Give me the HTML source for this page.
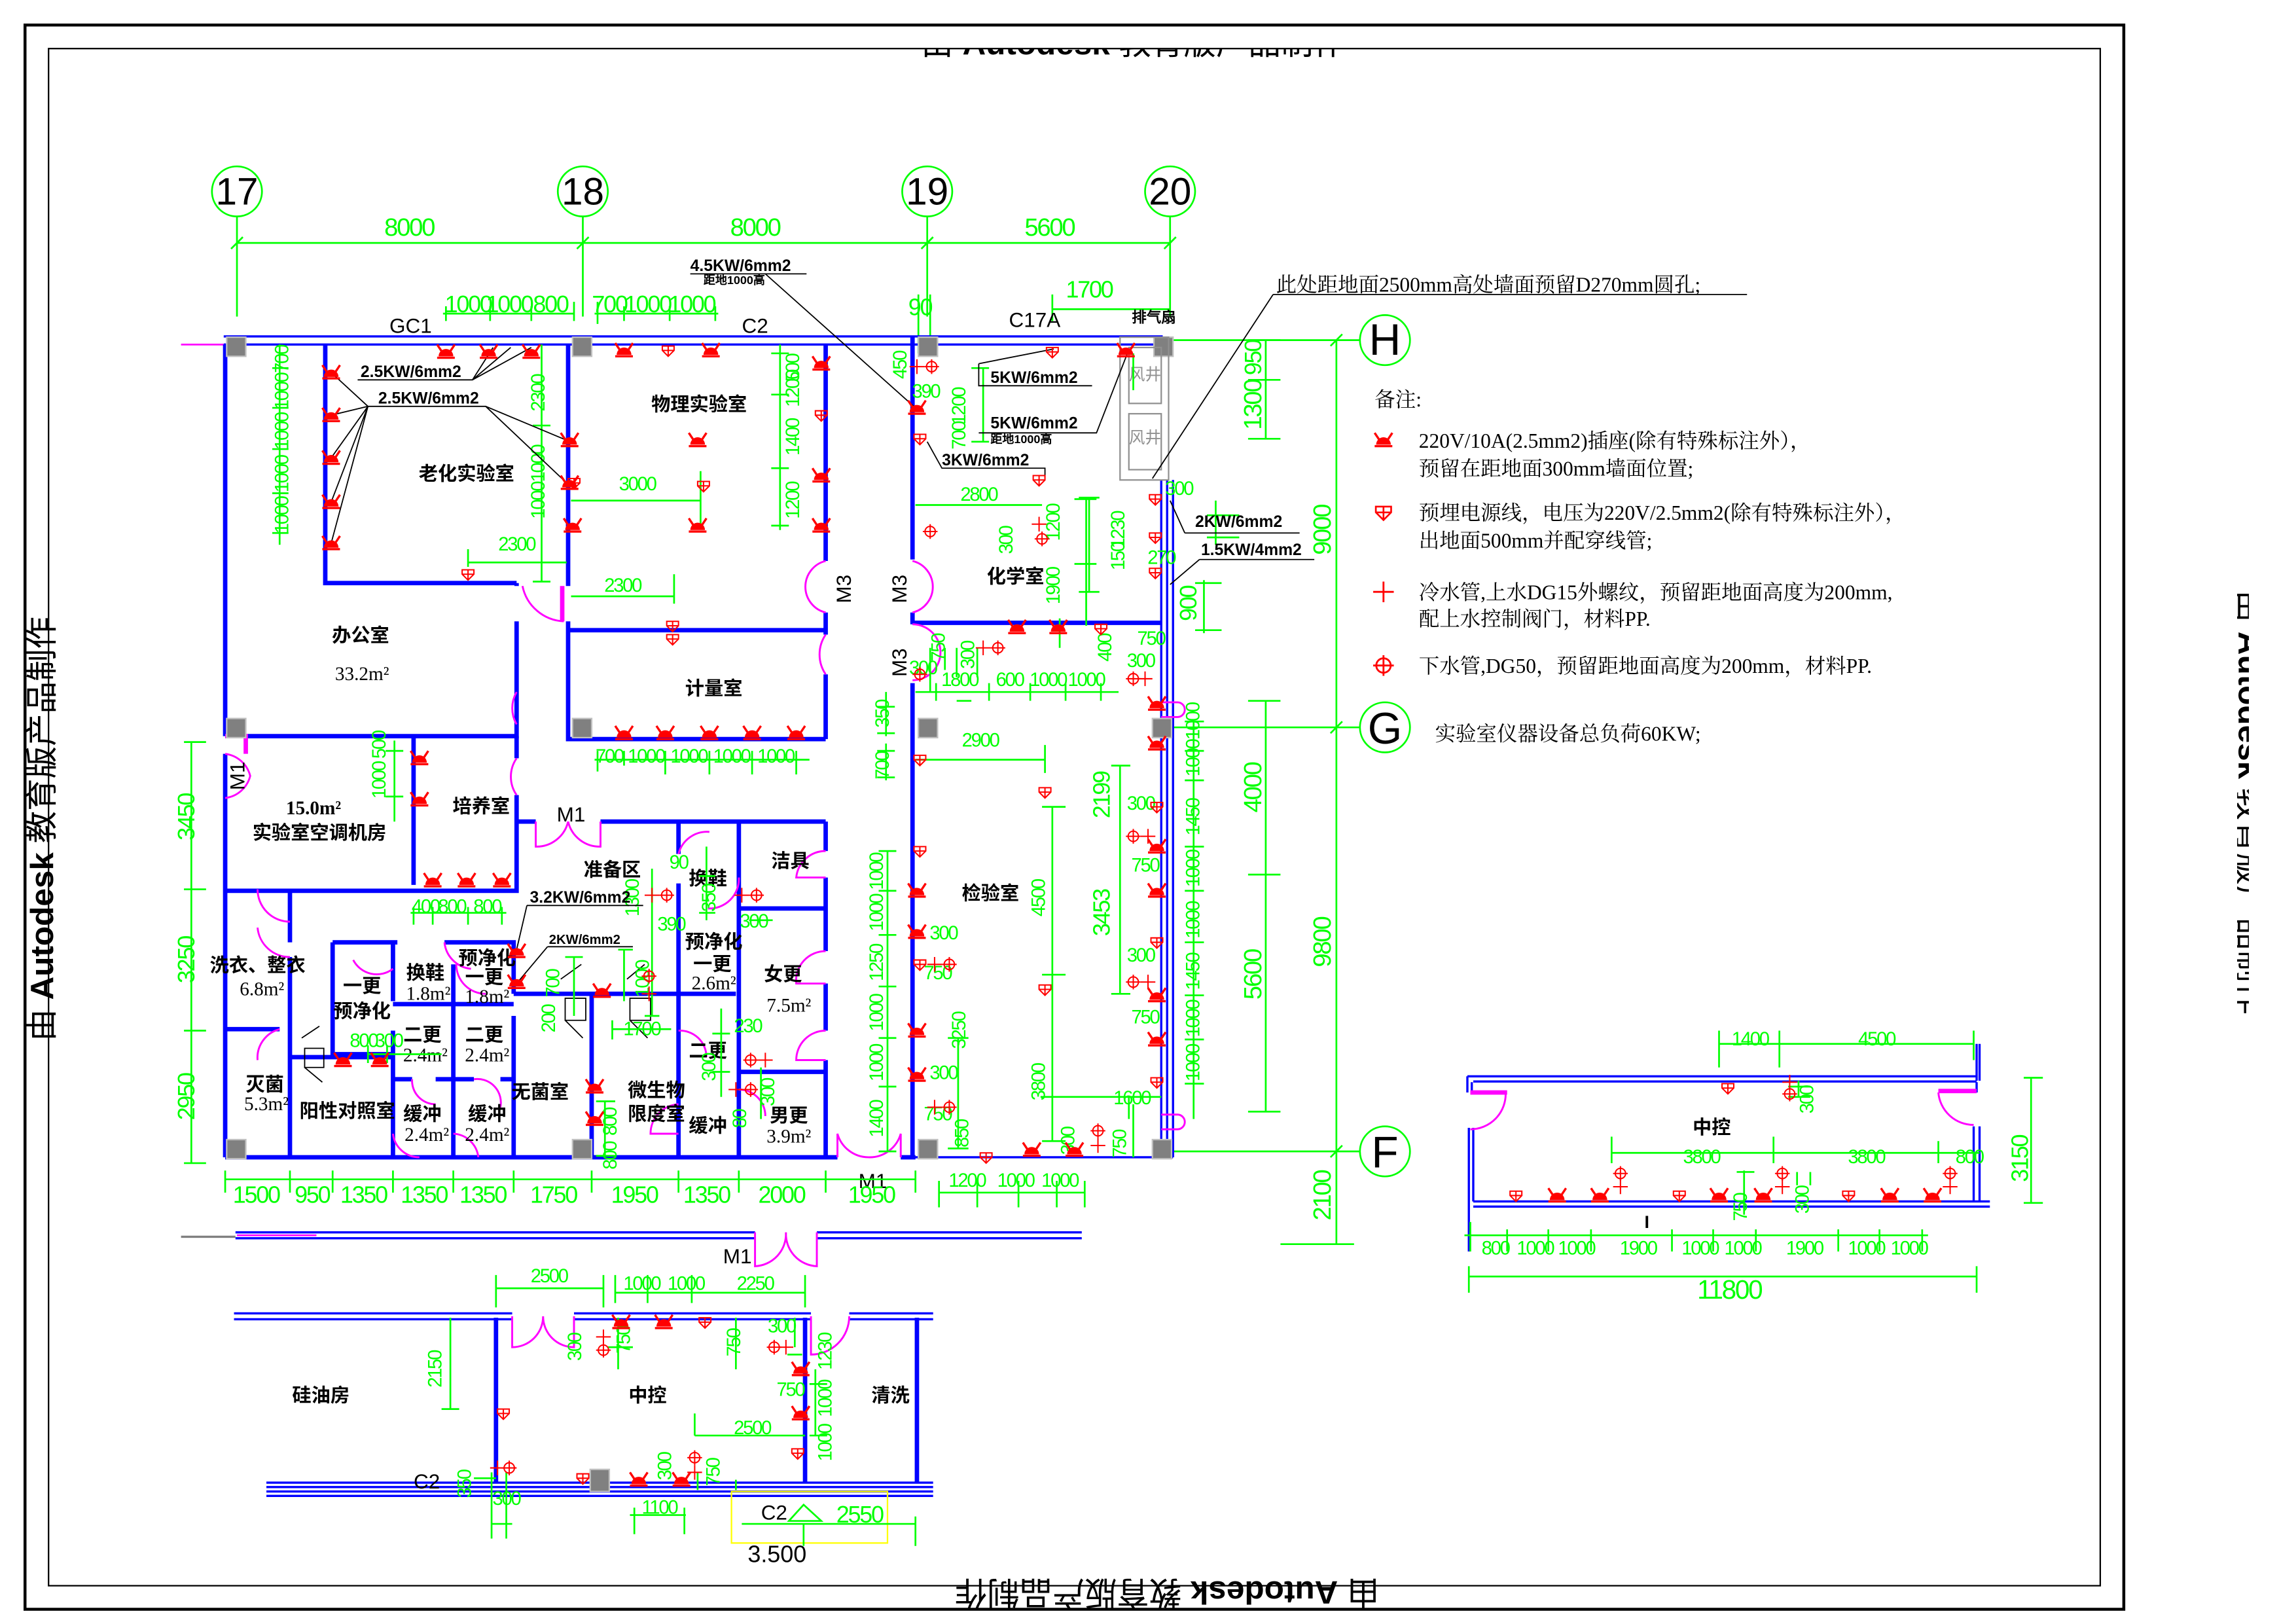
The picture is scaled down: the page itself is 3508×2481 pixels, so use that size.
<!DOCTYPE html>
<html><head><meta charset="utf-8"><style>
html,body{margin:0;padding:0;background:#fff;}
svg{display:block;}
text{font-family:"Liberation Sans","Noto Sans CJK SC",sans-serif;}
.d{fill:#00ff00;font-size:16px;text-anchor:middle;letter-spacing:-1px;font-family:"Liberation Sans Narrow","Liberation Sans",sans-serif;}
.ds{fill:#00ff00;font-size:13px;text-anchor:middle;letter-spacing:-1px;font-family:"Liberation Sans Narrow","Liberation Sans",sans-serif;}
.r{fill:#000;font-size:13px;font-weight:bold;text-anchor:middle;font-family:"Liberation Sans","Noto Sans CJK SC",sans-serif;}
.a{fill:#000;font-size:13px;text-anchor:middle;font-family:"Liberation Serif","Noto Serif CJK SC",serif;}
.k{fill:#000;font-size:11px;font-weight:bold;font-family:"Liberation Sans",sans-serif;}
.n{fill:#000;font-size:14px;font-family:"Liberation Serif","Noto Serif CJK SC",serif;}
.lb{fill:#000;font-size:14px;text-anchor:middle;font-family:"Liberation Sans Narrow","Liberation Sans",sans-serif;}
.w{stroke:#0000ff;stroke-width:3;fill:none;}
.w2{stroke:#0000ff;stroke-width:1.5;fill:none;}
.g{stroke:#00ff00;stroke-width:1.2;fill:none;}
.m{stroke:#ff00ff;stroke-width:1.3;fill:none;}
.mk{stroke:#ff00ff;stroke-width:3;fill:none;}
.bl{stroke:#000;stroke-width:0.8;fill:none;}
.col{fill:#808080;stroke:#c0c0c0;stroke-width:1;}
</style></head><body>
<svg width="3508" height="2481" viewBox="0 0 1560 1103" preserveAspectRatio="none" xmlns="http://www.w3.org/2000/svg">
<defs>
<g id="s"><path d="M-5,3 A5,5 0 0 1 5,3 Z" fill="#ff0000"/><path d="M-6,-5 L-2,1 M6,-5 L2,1 M-6,4 L6,4" stroke="#ff0000" stroke-width="1.5"/></g>
<g id="p"><path d="M-4,-3 H4 V0 L0,4 L-4,0 Z M-4,0 H4 M0,-3 V4" fill="none" stroke="#ff0000" stroke-width="0.9"/></g>
<g id="c"><path d="M-5,0 H5 M0,-5 V5" stroke="#ff0000" stroke-width="0.9"/></g>
<g id="o"><circle r="3.5" fill="none" stroke="#ff0000" stroke-width="0.9"/><path d="M-5,0 H5 M0,-5 V5" stroke="#ff0000" stroke-width="0.9"/></g>
<clipPath id="ct"><rect x="0" y="33" width="1560" height="30"/></clipPath>
<clipPath id="cr"><rect x="1520" y="300" width="8" height="500"/></clipPath>
</defs>
<rect width="1560" height="1103" fill="#fff"/>
<!-- frame -->
<rect x="17" y="17" width="1426" height="1076" fill="none" stroke="#000" stroke-width="2"/>
<rect x="33" y="33" width="1394" height="1044" fill="none" stroke="#000" stroke-width="1"/>
<!-- watermarks -->
<text x="770" y="37" clip-path="url(#ct)" style="font-size:22px;text-anchor:middle;font-family:'Liberation Sans','Noto Sans CJK SC',sans-serif;">由 <tspan font-weight="bold">Autodesk</tspan> 教育版产品制作</text>
<text transform="translate(793,1074) rotate(180)" style="font-size:22px;text-anchor:middle;font-family:'Liberation Sans','Noto Sans CJK SC',sans-serif;">由 <tspan font-weight="bold">Autodesk</tspan> 教育版产品制作</text>
<text transform="translate(36,563) rotate(-90)" style="font-size:22px;text-anchor:middle;font-family:'Liberation Sans','Noto Sans CJK SC',sans-serif;">由 <tspan font-weight="bold">Autodesk</tspan> 教育版产品制作</text>
<g clip-path="url(#cr)"><text transform="translate(1521,545) rotate(90)" style="font-size:22px;text-anchor:middle;font-family:'Liberation Sans','Noto Sans CJK SC',sans-serif;">由 <tspan font-weight="bold">Autodesk</tspan> 教育版产品制作</text></g>

<!-- grid axes -->
<g class="g">
<circle cx="161" cy="130" r="17"/><circle cx="396" cy="130" r="17"/><circle cx="630" cy="130" r="17"/><circle cx="795" cy="130" r="17"/>
<path d="M161,147 V215 M396,147 V215 M630,147 V215 M795,147 V215 M161,165 H795"/>
<path d="M157,169 L165,161 M392,169 L400,161 M626,169 L634,161 M791,169 L799,161"/>
<circle cx="941" cy="231" r="17"/><circle cx="941" cy="494" r="17"/><circle cx="941" cy="782" r="17"/>
<path d="M797,231 H924 M797,494 H924 M797,782 H924 M908,231 V845 M870,845 H920"/>
<path d="M904,235 L912,227 M904,498 L912,490 M904,786 L912,778"/>
<path d="M860,231 V298 M848,231 H870 M848,258 H870 M848,298 H870"/>
<path d="M860,476 V755 M848,476 H870 M848,594 H870 M848,755 H870"/>
<path d="M826,340 V370 M820,350 H842 M820,365 H842 M818,394 V430 M812,396 H830 M812,428 H830"/>
</g>
<g fill="#000" style="font-size:26px;font-family:'Liberation Serif',serif;text-anchor:middle;">
<text x="161" y="139">17</text><text x="396" y="139">18</text><text x="630" y="139">19</text><text x="795" y="139">20</text>
<text x="941" y="241" style="font-size:30px">H</text><text x="941" y="505" style="font-size:30px">G</text><text x="941" y="793" style="font-size:30px">F</text>
</g>
<text class="d" x="278" y="160" style="font-size:17px">8000</text><text class="d" x="513" y="160" style="font-size:17px">8000</text><text class="d" x="713" y="160" style="font-size:17px">5600</text>
<text class="d" transform="translate(904,360) rotate(-90)" style="font-size:17px">9000</text>
<text class="d" transform="translate(904,640) rotate(-90)" style="font-size:17px">9800</text>
<text class="d" transform="translate(904,812) rotate(-90)" style="font-size:17px">2100</text>
<text class="d" transform="translate(857,275) rotate(-90)" style="font-size:17px">1300</text>
<text class="d" transform="translate(857,243) rotate(-90)">950</text>
<text class="d" transform="translate(857,535) rotate(-90)" style="font-size:17px">4000</text>
<text class="d" transform="translate(857,662) rotate(-90)" style="font-size:17px">5600</text>
<text class="d" transform="translate(813,410) rotate(-90)">900</text>

<!-- top small dims -->
<g class="g"><path d="M301,213 H390 M303,208 V218 M333,208 V218 M361,208 V218 M390,205 V218 M404,213 H488 M406,205 V220 M424,208 V218 M455,208 V218 M486,208 V218 M715,210 H795 M715,200 V218"/>
<path d="M624,200 V240 M632,200 V240"/></g>
<text class="d" x="318" y="212">1000</text><text class="d" x="346" y="212">1000</text><text class="d" x="374" y="212">800</text>
<text class="d" x="414" y="212">700</text><text class="d" x="440" y="212">1000</text><text class="d" x="470" y="212">1000</text>
<text class="d" x="740" y="202">1700</text><text class="d" x="625" y="214">90</text>
<text class="lb" x="279" y="226">GC1</text><text class="lb" x="513" y="226">C2</text><text class="lb" x="703" y="222">C17A</text>
<text class="k" x="769" y="219" style="font-size:10px">排气扇</text>

<!-- walls main plan -->
<g class="w2">
<path d="M152,228.5 H790 M152,234 H790"/>
<path d="M789,326 V786 M793,326 V786 M797,326 V786"/>
<path d="M620,786 H797"/>
</g>
<path d="M123,234 H152" stroke="#ff00ff" stroke-width="1.2"/>
<g class="w">
<path d="M153,234 V500 M153,512 V786 M153,786 H569 M612,786 H622"/>
<path d="M221,234 V396 H351 M351,396 V398 M351,422 V500 H153"/>
<path d="M386,234 V398 M386,422 V502 H561 M386,428 H561 M561,234 V381 M561,416 V431 M561,458 V502"/>
<path d="M281,500 V601 M351,500 V515 M351,540 V605 H153"/>
<path d="M351,558 H364 M408,558 H561 M561,558 V578 M561,596 V646 M561,668 V700 M561,720 V786"/>
<path d="M461,559 V580 M461,600 V786 M502,559 V786 M502,617 H561 M502,728 H561 M349,675 H500"/>
<path d="M197,604 V640 M197,650 V786 M153,699 H190"/>
<path d="M226,640 V716 H267 M226,640 H270 M302,640 H349 V675 M349,690 V786 M267,640 V680 M267,700 V786 M308,655 V786 M267,682 H308 M308,682 H349 M267,733 H280 M296,733 H308 M308,733 H322 M340,733 H349 M197,718 H267 M402,675 V786"/>
<path d="M620,234 V380 M620,416 V424 M620,464 V786 M620,423 H789"/>
<path d="M620,234 V228"/>
</g>
<!-- doors magenta -->
<g class="m">
<path d="M383,422 A30,30 0 0 1 355,398"/><path d="M351,470 A22,22 0 0 0 351,492"/>
<path d="M561,381 A18,18 0 0 0 561,416 M620,381 A18,18 0 0 1 620,416 M561,431 A24,24 0 0 0 561,458"/>
<path d="M620,424 A18,18 0 0 1 620,462 M351,515 A22,22 0 0 0 351,540"/>
<path d="M364,558 V575 A22,22 0 0 0 386,558 M408,558 V575 A22,22 0 0 1 386,558"/>
<path d="M153,512 A20,20 0 0 1 170,527 A20,20 0 0 1 153,542"/>
<path d="M561,578 A20,20 0 0 0 541,596 H561 M561,646 A20,20 0 0 0 541,668 H561 M561,700 A20,20 0 0 0 541,720 H561"/>
<path d="M461,580 A20,20 0 0 1 482,565 M502,596 A20,20 0 0 1 481,617"/>
<path d="M175,604 A22,22 0 0 0 197,626 M197,650 A22,22 0 0 1 175,630 M190,699 A20,20 0 0 0 175,720"/>
<path d="M240,652 A18,18 0 0 0 267,658 M310,655 A20,20 0 0 0 330,675 M302,640 A20,20 0 0 0 320,658"/>
<path d="M280,733 A16,16 0 0 0 296,750 M322,733 A16,16 0 0 1 340,752 M267,770 A18,18 0 0 0 285,786 M308,770 A18,18 0 0 1 325,786"/>
<path d="M461,700 A18,18 0 0 1 480,718 M461,750 A20,20 0 0 0 442,770 H461 M502,740 A18,18 0 0 1 520,758"/>
<path d="M569,786 V770 A22,22 0 0 0 590,786 M612,786 V770 A22,22 0 0 1 590,786"/>
<path d="M789,477 H800 A5,5 0 0 1 800,487 H789 M789,757 H800 A5,5 0 0 1 800,767 H789"/>
</g>
<g class="mk"><path d="M153,500 H167 V512 M382,398 V422"/></g>
<!-- columns -->
<g class="col">
<rect x="154" y="229" width="13" height="13"/><rect x="389" y="229" width="13" height="13"/><rect x="624" y="229" width="13" height="13"/><rect x="784" y="229" width="13" height="13"/>
<rect x="154" y="488" width="13" height="13"/><rect x="389" y="488" width="13" height="13"/><rect x="624" y="488" width="13" height="13"/><rect x="783" y="488" width="13" height="13"/>
<rect x="154" y="774" width="13" height="13"/><rect x="389" y="774" width="13" height="13"/><rect x="624" y="774" width="13" height="13"/><rect x="783" y="774" width="13" height="13"/>
</g>
<!-- fan shaft -->
<g stroke="#909090" fill="none" stroke-width="1"><rect x="761" y="229" width="33" height="97"/><rect x="767" y="236" width="22" height="38"/><rect x="767" y="281" width="22" height="38"/></g>
<text x="778" y="258" style="font-size:11px;fill:#909090;text-anchor:middle;font-family:'Noto Sans CJK SC',sans-serif;">风井</text>
<text x="778" y="301" style="font-size:11px;fill:#909090;text-anchor:middle;font-family:'Noto Sans CJK SC',sans-serif;">风井</text>

<!-- room labels -->
<text class="r" x="317" y="326">老化实验室</text><text class="r" x="475" y="279">物理实验室</text>
<text class="r" x="245" y="436">办公室</text><text class="a" x="246" y="462">33.2m²</text>
<text class="r" x="485" y="472">计量室</text><text class="r" x="690" y="396">化学室</text><text class="r" x="673" y="611">检验室</text>
<text class="a" x="213" y="553" style="font-weight:bold">15.0m²</text><text class="r" x="217" y="570">实验室空调机房</text>
<text class="r" x="327" y="552">培养室</text><text class="r" x="416" y="595">准备区</text><text class="r" x="537" y="589">洁具</text>
<text class="r" x="481" y="601">换鞋</text><text class="r" x="485" y="644">预净化</text><text class="r" x="484" y="659">一更</text><text class="a" x="485" y="672">2.6m²</text>
<text class="r" x="532" y="666">女更</text><text class="a" x="536" y="687">7.5m²</text><text class="r" x="481" y="718">二更</text>
<text class="r" x="536" y="762">男更</text><text class="a" x="536" y="776">3.9m²</text><text class="r" x="481" y="769">缓冲</text>
<text class="r" x="446" y="745">微生物</text><text class="r" x="446" y="761">限度室</text><text class="r" x="367" y="746">无菌室</text>
<text class="r" x="287" y="761">缓冲</text><text class="a" x="290" y="775">2.4m²</text><text class="r" x="331" y="761">缓冲</text><text class="a" x="331" y="775">2.4m²</text>
<text class="r" x="287" y="707">二更</text><text class="a" x="289" y="721">2.4m²</text><text class="r" x="329" y="707">二更</text><text class="a" x="331" y="721">2.4m²</text>
<text class="r" x="289" y="665">换鞋</text><text class="a" x="291" y="679">1.8m²</text>
<text class="r" x="331" y="655">预净化</text><text class="r" x="329" y="668">一更</text><text class="a" x="331" y="681">1.8m²</text>
<text class="r" x="246" y="674">一更</text><text class="r" x="246" y="691">预净化</text>
<text class="r" x="175" y="660">洗衣、整衣</text><text class="a" x="178" y="676">6.8m²</text>
<text class="r" x="180" y="741">灭菌</text><text class="a" x="181" y="754">5.3m²</text><text class="r" x="236" y="759">阳性对照室</text>
<text class="lb" x="388" y="558">M1</text><text class="lb" x="593" y="807">M1</text>
<text class="lb" transform="translate(166,527) rotate(-90)">M1</text>
<text class="lb" transform="translate(578,400) rotate(-90)">M3</text><text class="lb" transform="translate(616,400) rotate(-90)">M3</text><text class="lb" transform="translate(616,450) rotate(-90)">M3</text>

<!-- pass boxes -->
<g class="bl"><path d="M381,665 L395,655 M384,678 H398 V693 H384 Z M384,693 L396,705 M426,665 L438,655 M428,678 H442 V693 H428 Z M428,693 L440,705 M205,705 L217,697 M207,712 H220 V725 H207 Z M207,725 L219,735"/></g>

<!-- dimension lines main plan -->
<g class="g">
<path d="M190,234 V370 M185,250 H196 M185,277 H196 M185,305 H196 M185,335 H196 M185,362 H196"/>
<path d="M368,234 V395 M362,289 H374 M362,395 H374 M368,300 V390"/>
<path d="M318,373 V385 M318,382 H385 M388,340 H476 M476,320 V358 M388,405 H458 M458,390 V410"/>
<path d="M530,234 V360 M524,240 H536 M524,268 H536 M524,318 H536 M524,357 H536"/>
<path d="M404,516 H550 M406,510 V524 M424,510 V520 M452,510 V526 M482,510 V526 M511,510 V526 M541,510 V526"/>
<path d="M268,503 V558 M262,510 H274 M262,541 H274"/>
<path d="M153,801 H622 M153,795 V810 M197,795 V810 M226,795 V810 M267,795 V810 M308,795 V810 M349,795 V810 M402,795 V810 M461,795 V810 M502,795 V810 M561,795 V810 M622,795 V810"/>
<path d="M130,504 V790 M125,504 H140 M125,604 H140 M125,700 H140 M125,790 H140"/>
<path d="M279,620 H344 M281,616 V628 M294,616 V628 M318,616 V628 M341,616 V628"/>
<path d="M603,578 V782 M597,578 H609 M597,605 H609 M597,635 H609 M597,670 H609 M597,705 H609 M597,738 H609 M597,782 H609"/>
<path d="M602,470 V500 M596,480 H608 M596,498 H608 M602,505 V530 M596,510 H608 M596,528 H608"/>
<path d="M622,470 H760 M636,464 V476 M672,464 V476 M700,464 V476 M724,464 V476 M748,464 V476"/>
<path d="M622,343 H708 M622,516 H710 M710,506 V525 M738,339 V425 M730,339 H745 M730,383 H745 M642,440 V455"/>
<path d="M715,548 V600 M708,548 H724 M708,662 H724 M715,600 V775 M708,775 H724"/>
<path d="M761,520 V675 M755,520 H768 M755,675 H768"/>
<path d="M651,705 V780 M644,705 H658 M644,780 H658"/>
<path d="M638,810 H737 M638,802 V820 M664,802 V820 M692,802 V820 M718,802 V820 M737,802 V820"/>
<path d="M707,745 H789 M767,745 V760 M770,750 V786"/>
<path d="M811,490 V760 M805,490 H818 M805,510 H818 M805,530 H818 M805,575 H818 M805,605 H818 M805,640 H818 M805,676 H818 M805,706 H818 M805,736 H818"/>
<path d="M668,250 V300 M660,250 H672 M660,300 H672"/>
<path d="M740,338 V402 M733,338 H747 M733,402 H747 M770,240 V265"/>
<path d="M632,440 V470 M650,440 V460 M664,440 V460"/>
<path d="M480,575 V625 M475,595 H486 M475,620 H486 M424,645 V680 M420,645 H430 M443,590 V690 M438,690 H448 M390,650 V690 M384,650 H396"/>
<path d="M416,699 H456 M416,693 V706 M411,748 V785 M405,748 H418 M405,785 H418"/>
<path d="M490,685 V745 M484,702 H496 M484,728 H496"/>
<path d="M509,625 H525 M517,725 V760"/>
<path d="M250,716 H300 M250,710 V722 M263,710 V722"/>
<path d="M720,440 V420 M650,476 H660"/>
</g>
<!-- dim text main plan -->
<g>
<text class="ds" transform="translate(196,244) rotate(-90)">700</text>
<text class="ds" transform="translate(196,266) rotate(-90)">1000</text>
<text class="ds" transform="translate(196,293) rotate(-90)">1000</text>
<text class="ds" transform="translate(196,322) rotate(-90)">1000</text>
<text class="ds" transform="translate(196,350) rotate(-90)">1000</text>
<text class="ds" transform="translate(370,267) rotate(-90)">2300</text>
<text class="ds" transform="translate(370,340) rotate(-90)">1000</text>
<text class="ds" transform="translate(370,315) rotate(-90)">1000</text>
<text class="ds" x="351" y="374">2300</text><text class="ds" x="433" y="333">3000</text><text class="ds" x="423" y="402">2300</text>
<text class="ds" transform="translate(543,250) rotate(-90)">500</text>
<text class="ds" transform="translate(543,264) rotate(-90)">1200</text>
<text class="ds" transform="translate(543,297) rotate(-90)">1400</text>
<text class="ds" transform="translate(543,340) rotate(-90)">1200</text>
<text class="ds" x="414" y="518">700</text><text class="ds" x="439" y="518">1000</text><text class="ds" x="468" y="518">1000</text><text class="ds" x="497" y="518">1000</text><text class="ds" x="527" y="518">1000</text>
<text class="ds" transform="translate(262,530) rotate(-90)">1000</text><text class="ds" transform="translate(262,506) rotate(-90)">500</text>
<text class="d" x="174" y="817">1500</text><text class="d" x="212" y="817">950</text><text class="d" x="247" y="817">1350</text><text class="d" x="288" y="817">1350</text><text class="d" x="328" y="817">1350</text><text class="d" x="376" y="817">1750</text><text class="d" x="431" y="817">1950</text><text class="d" x="480" y="817">1350</text><text class="d" x="531" y="817">2000</text><text class="d" x="592" y="817">1950</text>
<text class="d" transform="translate(132,555) rotate(-90)">3450</text><text class="d" transform="translate(132,652) rotate(-90)">3250</text><text class="d" transform="translate(132,745) rotate(-90)">2950</text>
<text class="ds" x="289" y="620">400</text><text class="ds" x="307" y="620">800</text><text class="ds" x="331" y="620">800</text>
<text class="ds" transform="translate(600,592) rotate(-90)">1000</text><text class="ds" transform="translate(600,620) rotate(-90)">1000</text><text class="ds" transform="translate(600,654) rotate(-90)">1250</text><text class="ds" transform="translate(600,688) rotate(-90)">1000</text><text class="ds" transform="translate(600,722) rotate(-90)">1000</text><text class="ds" transform="translate(600,760) rotate(-90)">1400</text>
<text class="ds" transform="translate(604,485) rotate(-90)">350</text><text class="ds" transform="translate(604,520) rotate(-90)">700</text>
<text class="ds" x="652" y="466">1800</text><text class="ds" x="686" y="466">600</text><text class="ds" x="712" y="466">1000</text><text class="ds" x="738" y="466">1000</text>
<text class="ds" x="665" y="340">2800</text><text class="ds" x="666" y="507">2900</text>
<text class="ds" transform="translate(720,355) rotate(-90)">1200</text><text class="ds" transform="translate(720,398) rotate(-90)">1900</text>
<text class="ds" transform="translate(688,367) rotate(-90)">300</text>
<text class="ds" transform="translate(764,360) rotate(-90)">1230</text><text class="ds" transform="translate(764,378) rotate(-90)">150</text>
<text class="ds" x="789" y="383">270</text><text class="ds" x="801" y="336">300</text>
<text class="ds" transform="translate(710,610) rotate(-90)">4500</text><text class="ds" transform="translate(710,735) rotate(-90)">3800</text>
<text class="d" transform="translate(754,540) rotate(-90)">2199</text><text class="d" transform="translate(754,620) rotate(-90)">3453</text>
<text class="ds" transform="translate(656,700) rotate(-90)">3250</text>
<text class="ds" x="775" y="550">300</text><text class="ds" x="778" y="592">750</text><text class="ds" x="775" y="653">300</text><text class="ds" x="778" y="695">750</text><text class="ds" x="769" y="750">1600</text>
<text class="ds" x="641" y="638">300</text><text class="ds" x="637" y="665">750</text><text class="ds" x="641" y="733">300</text><text class="ds" x="637" y="761">750</text>
<text class="ds" transform="translate(658,770) rotate(-90)">850</text>
<text class="ds" transform="translate(730,775) rotate(-90)">300</text><text class="ds" transform="translate(765,777) rotate(-90)">750</text>
<text class="ds" x="657" y="806">1200</text><text class="ds" x="690" y="806">1000</text><text class="ds" x="720" y="806">1000</text>
<text class="ds" x="782" y="438">750</text><text class="ds" x="775" y="453">300</text>
<text class="ds" transform="translate(755,440) rotate(-90)">400</text>
<text class="ds" transform="translate(642,440) rotate(-90)">750</text><text class="ds" transform="translate(662,445) rotate(-90)">300</text>
<text class="ds" x="627" y="458">300</text>
<text class="ds" transform="translate(656,276) rotate(-90)">1200</text><text class="ds" transform="translate(656,296) rotate(-90)">700</text>
<text class="ds" transform="translate(616,248) rotate(-90)">450</text><text class="ds" x="629" y="270">390</text>
<text class="ds" transform="translate(815,515) rotate(-90)">1000</text><text class="ds" transform="translate(815,490) rotate(-90)">1000</text><text class="ds" transform="translate(815,555) rotate(-90)">1450</text><text class="ds" transform="translate(815,590) rotate(-90)">1000</text><text class="ds" transform="translate(815,625) rotate(-90)">1000</text><text class="ds" transform="translate(815,660) rotate(-90)">1450</text><text class="ds" transform="translate(815,692) rotate(-90)">1000</text><text class="ds" transform="translate(815,722) rotate(-90)">1000</text>
<text class="ds" x="461" y="590">90</text><text class="ds" transform="translate(486,610) rotate(-90)">350</text><text class="ds" x="456" y="632">390</text><text class="ds" x="512" y="630">300</text>
<text class="ds" transform="translate(434,610) rotate(-90)">1300</text><text class="ds" transform="translate(441,665) rotate(-90)">1000</text>
<text class="ds" transform="translate(380,668) rotate(-90)">700</text><text class="ds" transform="translate(377,692) rotate(-90)">200</text>
<text class="ds" x="436" y="703">1700</text><text class="ds" x="508" y="701">230</text>
<text class="ds" transform="translate(486,725) rotate(-90)">300</text><text class="ds" transform="translate(526,742) rotate(-90)">300</text><text class="ds" transform="translate(507,760) rotate(-90)">80</text>
<text class="ds" transform="translate(419,762) rotate(-90)">800</text><text class="ds" transform="translate(419,785) rotate(-90)">800</text>
<text class="ds" x="247" y="711">800</text><text class="ds" x="264" y="711">300</text>
</g>

<!-- power labels / leaders -->
<g class="bl">
<path d="M243,258 H321 L335,236 M321,258 L347,236 M321,258 L361,236"/>
<path d="M250,276 H330 L385,299 M330,276 L385,328 M250,276 L225,253 M250,276 L225,282 M250,276 L225,311 M250,276 L225,341 M250,276 L225,369"/>
<path d="M469,186 H548 M520,186 L622,277"/>
<path d="M665,247 V262 H742 M665,247 L716,237 M665,294 H745 L766,240 M630,300 L640,318 H710 V325"/>
<path d="M805,362 H883 M795,340 L805,362 M815,380 H893 M815,380 L795,397"/>
<path d="M358,615 H437 M358,615 L351,645 M372,643 H430 M372,643 L351,668"/>
<path d="M865,200 H1187 M865,200 L783,325"/>
</g>
<text class="k" x="245" y="256">2.5KW/6mm2</text><text class="k" x="257" y="274">2.5KW/6mm2</text>
<text class="k" x="469" y="184">4.5KW/6mm2</text><text class="k" x="478" y="193" style="font-size:8px">距地1000高</text>
<text class="k" x="673" y="260">5KW/6mm2</text><text class="k" x="673" y="291">5KW/6mm2</text><text class="k" x="673" y="301" style="font-size:8px">距地1000高</text>
<text class="k" x="640" y="316">3KW/6mm2</text><text class="k" x="812" y="358">2KW/6mm2</text><text class="k" x="816" y="377">1.5KW/4mm2</text>
<text class="k" x="360" y="613">3.2KW/6mm2</text><text class="k" x="373" y="641" style="font-size:9px">2KW/6mm2</text>

<!-- red symbols main plan -->
<g>
<use href="#s" x="303" y="239"/><use href="#s" x="332" y="239"/><use href="#s" x="361" y="239"/>
<use href="#s" x="225" y="253"/><use href="#s" x="225" y="282"/><use href="#s" x="225" y="311"/><use href="#s" x="225" y="341"/><use href="#s" x="225" y="369"/>
<use href="#s" x="387" y="299"/><use href="#s" x="387" y="328"/><use href="#s" x="389" y="357"/>
<use href="#s" x="424" y="238"/><use href="#s" x="483" y="238"/><use href="#s" x="474" y="299"/><use href="#s" x="474" y="357"/>
<use href="#s" x="558" y="247"/><use href="#s" x="558" y="323"/><use href="#s" x="558" y="357"/>
<use href="#s" x="424" y="498"/><use href="#s" x="452" y="498"/><use href="#s" x="482" y="498"/><use href="#s" x="511" y="498"/><use href="#s" x="541" y="498"/>
<use href="#s" x="285" y="515"/><use href="#s" x="285" y="543"/><use href="#s" x="294" y="598"/><use href="#s" x="317" y="598"/><use href="#s" x="341" y="598"/>
<use href="#s" x="233" y="720"/><use href="#s" x="258" y="720"/><use href="#s" x="351" y="646"/><use href="#s" x="351" y="667"/>
<use href="#s" x="404" y="738"/><use href="#s" x="404" y="760"/><use href="#s" x="409" y="673"/>
<use href="#s" x="623" y="605"/><use href="#s" x="623" y="633"/><use href="#s" x="623" y="700"/><use href="#s" x="623" y="730"/>
<use href="#s" x="786" y="478"/><use href="#s" x="786" y="505"/><use href="#s" x="786" y="575"/><use href="#s" x="786" y="605"/><use href="#s" x="786" y="676"/><use href="#s" x="786" y="706"/>
<use href="#s" x="701" y="781"/><use href="#s" x="730" y="781"/><use href="#s" x="691" y="426"/><use href="#s" x="719" y="426"/>
<use href="#s" x="765" y="238"/><use href="#s" x="623" y="277"/>
<use href="#p" x="318" y="390"/><use href="#p" x="457" y="425"/><use href="#p" x="457" y="434"/><use href="#p" x="454" y="238"/><use href="#p" x="558" y="282"/><use href="#p" x="390" y="328"/><use href="#p" x="478" y="330"/>
<use href="#p" x="715" y="239"/><use href="#p" x="625" y="298"/><use href="#p" x="706" y="326"/><use href="#p" x="785" y="339"/><use href="#p" x="785" y="365"/><use href="#p" x="785" y="389"/><use href="#p" x="748" y="427"/>
<use href="#p" x="625" y="516"/><use href="#p" x="710" y="538"/><use href="#p" x="625" y="578"/><use href="#p" x="625" y="655"/><use href="#p" x="710" y="672"/><use href="#p" x="670" y="786"/><use href="#p" x="786" y="548"/><use href="#p" x="786" y="640"/><use href="#p" x="786" y="735"/>
<use href="#o" x="633" y="249"/><use href="#c" x="623" y="249"/><use href="#o" x="632" y="361"/><use href="#o" x="708" y="366"/><use href="#c" x="706" y="356"/>
<use href="#o" x="678" y="440"/><use href="#c" x="668" y="440"/><use href="#o" x="770" y="461"/><use href="#c" x="778" y="461"/><use href="#o" x="625" y="458"/>
<use href="#o" x="770" y="568"/><use href="#c" x="780" y="568"/><use href="#o" x="770" y="667"/><use href="#c" x="780" y="667"/>
<use href="#o" x="645" y="655"/><use href="#c" x="635" y="655"/><use href="#o" x="645" y="752"/><use href="#c" x="635" y="752"/><use href="#o" x="746" y="768"/><use href="#c" x="746" y="778"/>
<use href="#o" x="453" y="608"/><use href="#c" x="443" y="608"/><use href="#o" x="514" y="608"/><use href="#c" x="504" y="608"/><use href="#o" x="441" y="663"/><use href="#c" x="441" y="675"/>
<use href="#o" x="510" y="720"/><use href="#c" x="520" y="720"/><use href="#o" x="510" y="740"/><use href="#c" x="500" y="740"/>
</g>

<!-- legend -->
<text class="n" x="867" y="198">此处距地面2500mm高处墙面预留D270mm圆孔;</text>
<text class="n" x="934" y="276">备注:</text>
<use href="#s" x="940" y="299"/>
<text class="n" x="964" y="304">220V/10A(2.5mm2)插座(除有特殊标注外），</text>
<text class="n" x="964" y="323">预留在距地面300mm墙面位置;</text>
<g transform="translate(940,348) scale(1.3)"><use href="#p"/></g>
<text class="n" x="964" y="353">预埋电源线，电压为220V/2.5mm2(除有特殊标注外），</text>
<text class="n" x="964" y="372">出地面500mm并配穿线管;</text>
<g transform="translate(940,402) scale(1.4)"><use href="#c"/></g>
<text class="n" x="964" y="407">冷水管,上水DG15外螺纹，预留距地面高度为200mm,</text>
<text class="n" x="964" y="425">配上水控制阀门，材料PP.</text>
<g transform="translate(940,452) scale(1.4)"><use href="#o"/></g>
<text class="n" x="964" y="457">下水管,DG50，预留距地面高度为200mm，材料PP.</text>
<text class="n" x="975" y="503">实验室仪器设备总负荷60KW;</text>

<!-- lower plan -->
<path d="M123,840 H160" stroke="#808080" stroke-width="1.5"/>
<g class="w2">
<path d="M160,837 H513 M160,841 H513 M555,837 H735 M555,841 H735"/>
<path d="M159,892 H348 M159,896 H348 M390,892 H551 M390,896 H551 M577,892 H634 M577,896 H634"/>
<path d="M181,1007 H634 M181,1010 H634 M181,1013 H634 M181,1016 H634"/>
</g>
<path d="M161,839 H215" stroke="#ff00ff" stroke-width="1.2"/>
<g class="w"><path d="M337,895 V1007 M547,895 V1007 M623,895 V1007"/></g>
<g class="m"><path d="M513,837 V860 A22,22 0 0 0 534,837 M555,837 V860 A22,22 0 0 1 534,837"/>
<path d="M348,894 V915 A21,21 0 0 0 369,894 M390,894 V915 A21,21 0 0 1 369,894"/>
<path d="M551,894 V920 A26,26 0 0 0 577,894"/></g>
<rect x="401" y="998" width="13" height="15" class="col"/>
<text class="r" x="218" y="952">硅油房</text><text class="r" x="440" y="952">中控</text><text class="r" x="605" y="952">清洗</text>
<text class="lb" x="501" y="858">M1</text><text class="lb" x="290" y="1011">C2</text><text class="lb" x="526" y="1032">C2</text>
<text class="lb" x="528" y="1061" style="font-size:16px">3.500</text>
<rect x="497" y="1013" width="106" height="35" fill="none" stroke="#ffff00" stroke-width="1"/>
<g class="g">
<path d="M337,875 H410 M337,866 V888 M410,866 V888 M418,878 H547 M418,866 V885 M440,866 V885 M470,866 V885 M547,866 V888"/>
<path d="M306,895 V957 M300,957 H312"/>
<path d="M546,1022 L558,1033 H536 Z M504,1035 H622 M622,1030 V1050 M546,1035 V1050"/>
<path d="M428,1029 H466 M431,1024 V1042 M465,1024 V1042"/>
<path d="M334,1000 V1045 M344,1000 V1045 M322,1004 H337 M334,1035 H348"/>
<path d="M413,915 H430 M420,895 V930 M500,895 V930 M535,920 H545 M540,895 V915 M554,930 V975 M550,940 H562 M550,975 H562 M472,975 H547 M472,960 V975 M474,1000 V1012 M500,1005 V1012"/>
</g>
<text class="ds" x="373" y="871">2500</text><text class="ds" x="436" y="876">1000</text><text class="ds" x="466" y="876">1000</text><text class="ds" x="513" y="876">2250</text>
<text class="ds" transform="translate(300,930) rotate(-90)">2150</text>
<text class="ds" x="584" y="1034" style="font-size:16px">2550</text><text class="ds" x="448" y="1028">1100</text>
<text class="ds" transform="translate(395,915) rotate(-90)">300</text><text class="ds" transform="translate(428,910) rotate(-90)">750</text>
<text class="ds" transform="translate(503,912) rotate(-90)">750</text><text class="ds" x="531" y="905">300</text>
<text class="ds" transform="translate(565,918) rotate(-90)">1230</text><text class="ds" x="537" y="948">750</text>
<text class="ds" transform="translate(565,950) rotate(-90)">1000</text><text class="ds" transform="translate(565,980) rotate(-90)">1000</text>
<text class="ds" x="511" y="974">2500</text><text class="ds" transform="translate(456,996) rotate(-90)">300</text><text class="ds" transform="translate(489,1000) rotate(-90)">750</text>
<text class="ds" transform="translate(320,1008) rotate(-90)">350</text><text class="ds" x="344" y="1022">300</text>
<g>
<use href="#s" x="422" y="898"/><use href="#s" x="451" y="898"/><use href="#s" x="544" y="930"/><use href="#s" x="544" y="960"/><use href="#s" x="434" y="1005"/><use href="#s" x="463" y="1005"/>
<use href="#p" x="479" y="898"/><use href="#p" x="342" y="960"/><use href="#p" x="542" y="987"/><use href="#p" x="396" y="1004"/>
<use href="#o" x="410" y="917"/><use href="#c" x="410" y="908"/><use href="#o" x="526" y="915"/><use href="#c" x="534" y="915"/>
<use href="#o" x="346" y="997"/><use href="#c" x="338" y="997"/><use href="#o" x="472" y="990"/><use href="#c" x="472" y="1000"/>
</g>

<!-- right plan 中控 -->
<g class="w2">
<path d="M997,731 H1343 M1001,734.5 H1343 M1343,709 V734 M1345,709 V734"/>
<path d="M997,731 V742 M1000,735 V742 M998,766 V850 M1001,766 V816"/>
<path d="M1001,816 H1352 M1001,819.5 H1352 M1343,735 V742 M1341,765 V816 M1345,765 V816"/>
</g>
<g class="mk"><path d="M999,742 H1024 M1317,741 H1343"/></g>
<g class="m"><path d="M1023,742 A24,24 0 0 1 999,767 M1317,742 A24,24 0 0 0 1341,764"/></g>
<text class="r" x="1163" y="770">中控</text>
<g class="g">
<path d="M1168,709 H1341 M1168,700 V725 M1209,700 V725 M1341,700 V720"/>
<path d="M1095,783 H1345 M1095,772 V790 M1205,772 V790 M1317,775 V790"/>
<path d="M1380,732 V817 M1375,732 H1388 M1375,817 H1388"/>
<path d="M995,839 H1310 M999,830 V850 M1024,835 V850 M1052,835 V850 M1081,835 V850 M1136,835 V850 M1164,835 V850 M1193,835 V850 M1249,835 V850 M1277,835 V850 M1306,835 V850"/>
<path d="M998,867 H1343 M998,860 V878 M1343,860 V878"/>
<path d="M1185,795 V825 M1180,796 H1192 M1221,796 V805 M1230,796 V805 M1222,734 V745 M1215,738 H1230 M1215,745 H1230"/>
</g>
<text class="ds" x="1189" y="710">1400</text><text class="ds" x="1275" y="710">4500</text>
<text class="ds" x="1156" y="790">3800</text><text class="ds" x="1268" y="790">3800</text><text class="ds" x="1338" y="790">800</text>
<text class="d" transform="translate(1378,787) rotate(-90)">3150</text>
<text class="ds" transform="translate(1232,747) rotate(-90)">300</text><text class="ds" transform="translate(1187,820) rotate(-90)">750</text><text class="ds" transform="translate(1229,815) rotate(-90)">300</text>
<text class="ds" x="1016" y="852">800</text><text class="ds" x="1043" y="852">1000</text><text class="ds" x="1071" y="852">1000</text><text class="ds" x="1113" y="852">1900</text><text class="ds" x="1155" y="852">1000</text><text class="ds" x="1184" y="852">1000</text><text class="ds" x="1226" y="852">1900</text><text class="ds" x="1268" y="852">1000</text><text class="ds" x="1297" y="852">1000</text>
<text class="d" x="1175" y="882" style="font-size:18px">11800</text>
<g>
<use href="#s" x="1058" y="812"/><use href="#s" x="1087" y="812"/><use href="#s" x="1168" y="812"/><use href="#s" x="1198" y="812"/><use href="#s" x="1284" y="812"/><use href="#s" x="1313" y="812"/>
<use href="#p" x="1030" y="812"/><use href="#p" x="1141" y="812"/><use href="#p" x="1256" y="812"/><use href="#p" x="1174" y="739"/>
<use href="#o" x="1101" y="797"/><use href="#c" x="1101" y="806"/><use href="#o" x="1211" y="797"/><use href="#c" x="1211" y="806"/><use href="#o" x="1325" y="797"/><use href="#c" x="1325" y="806"/><use href="#o" x="1216" y="743"/><use href="#c" x="1216" y="735"/>
</g>
<text x="1119" y="834" style="font-size:12px;font-weight:bold;text-anchor:middle;">I</text>
</svg>
</body></html>
